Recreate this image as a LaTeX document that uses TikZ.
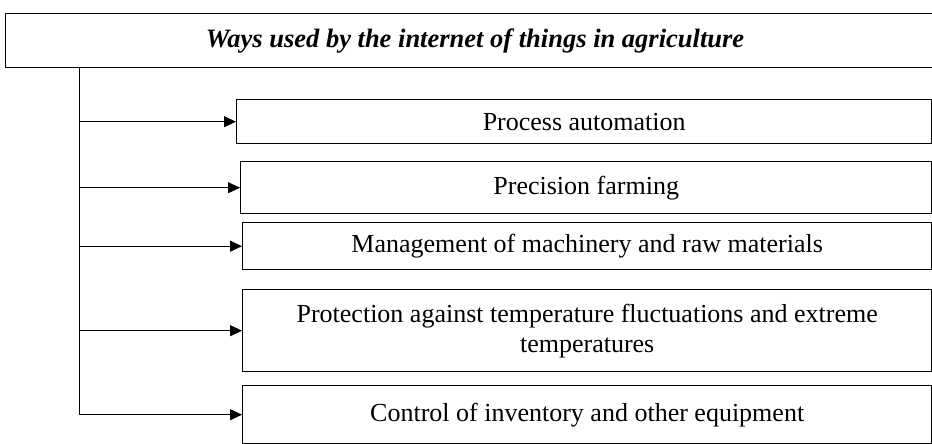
\documentclass[tikz,border=0pt]{standalone}
\usepackage{fontspec}
\setmainfont{Liberation Serif}
\usetikzlibrary{arrows.meta}
\begin{document}
\begin{tikzpicture}[x=1pt,y=-1pt,
  item/.style={draw,line width=1.4pt,anchor=north west,inner sep=0pt,align=center,font=\fontsize{26}{30}\selectfont},
  link/.style={line width=0.9pt,-{Triangle[length=12pt,width=11pt]}}]
\useasboundingbox (0,0) rectangle (932,444);
\clip (0,0) rectangle (932,444);
\node[draw,line width=1.4pt,anchor=north west,minimum width=935pt,minimum height=54pt,inner sep=0pt] (title) at (5,13) {};
\node (tt) at (475,41) {\fontsize{26.5}{30}\selectfont\bfseries\itshape Ways used by the internet of things in agriculture};
\node[item,minimum width=695pt,minimum height=44pt] (b1) at (236,99) {Process automation};
\node[item,minimum width=691pt,minimum height=52pt] (b2) at (240,161) {Precision farming};
\node[item,minimum width=689pt,minimum height=47pt] (b3) at (242,222) {Management of machinery and raw materials};
\node[item,minimum width=689pt,minimum height=82pt,text depth=4pt] (b4) at (242,289) {Protection against temperature fluctuations and extreme\\temperatures};
\node[item,minimum width=689pt,minimum height=58pt] (b5) at (242,385) {Control of inventory and other equipment};
\coordinate (t) at (79,67);
\draw[link] (t) |- (b5.west);
\draw[link] (t |- b1.west) -- (b1.west);
\draw[link] (t |- b2.west) -- (b2.west);
\draw[link] (t |- b3.west) -- (b3.west);
\draw[link] (t |- b4.west) -- (b4.west);
\end{tikzpicture}
\end{document}
